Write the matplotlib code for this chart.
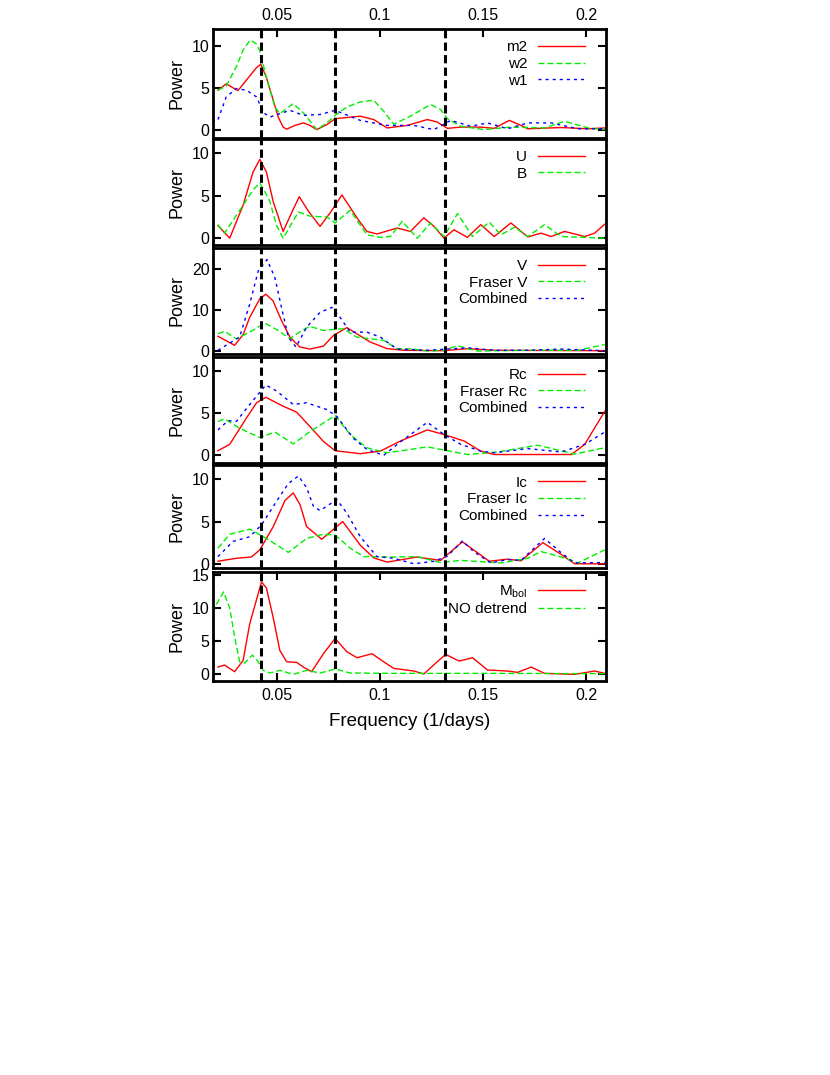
import matplotlib
matplotlib.use("Agg")
import matplotlib.pyplot as plt

plt.rcParams['font.family'] = ['Liberation Sans', 'DejaVu Sans']
plt.rcParams['mathtext.fontset'] = 'custom'
plt.rcParams['mathtext.rm'] = 'Liberation Sans'
plt.rcParams['mathtext.it'] = 'Liberation Sans:italic'

# marked frequencies (1/days)
marked_freqs = [0.0427, 0.0784, 0.1315]

# panel 1: Swift UVOT
m2_f = [0.0216, 0.0256, 0.0313, 0.0370, 0.0403, 0.0424, 0.0451, 0.0484, 0.0508, 0.0532, 0.0549, 0.0589,
        0.0630, 0.0662, 0.0695, 0.0744, 0.0784, 0.0906, 0.0971, 0.1036, 0.1133, 0.1231, 0.1279, 0.1328,
        0.1393, 0.1490, 0.1555, 0.1628, 0.1685, 0.1718, 0.1880, 0.2010, 0.2091]
m2_p = [4.7, 5.45, 4.65, 6.4, 7.4, 7.8, 6.2, 3.5, 1.5, 0.3, 0.05, 0.5,
        0.8, 0.5, 0.0, 0.6, 1.3, 1.6, 1.2, 0.2, 0.5, 1.2, 0.9, 0.15,
        0.3, 0.3, 0.15, 1.1, 0.5, 0.1, 0.25, 0.1, 0.2]
w2_f = [0.0216, 0.0256, 0.0305, 0.0338, 0.0373, 0.0403, 0.0419, 0.0451, 0.0492, 0.0516, 0.0549, 0.0581,
        0.0630, 0.0695, 0.0744, 0.0784, 0.0841, 0.0906, 0.0971, 0.1019, 0.1068, 0.1149, 0.1247, 0.1295,
        0.1328, 0.1393, 0.1506, 0.1636, 0.1799, 0.1896, 0.2010, 0.2091]
w2_p = [4.7, 5.2, 7.5, 9.5, 10.7, 10.2, 9.4, 6.2, 2.7, 1.9, 2.5, 3.1,
        2.0, 0.0, 0.8, 1.7, 2.7, 3.3, 3.5, 2.2, 0.65, 1.6, 3.0, 2.4,
        1.3, 0.4, 0.0, 0.3, 0.2, 1.0, 0.2, 0.0]
w1_f = [0.0216, 0.0256, 0.0305, 0.0354, 0.0403, 0.0419, 0.0443, 0.0468, 0.0565, 0.0630, 0.0711, 0.0784,
        0.0906, 0.1036, 0.1166, 0.1263, 0.1344, 0.1442, 0.1523, 0.1620, 0.1718, 0.1831, 0.1961, 0.2091]
w1_p = [1.2, 3.9, 4.9, 4.7, 3.9, 3.0, 1.9, 1.5, 2.3, 1.7, 1.8, 2.3,
        1.1, 0.5, 0.5, 0.0, 1.1, 0.4, 0.8, 0.1, 0.8, 0.8, 0.1, 0.1]

# panel 2: U, B
u_f = [0.0216, 0.0273, 0.0338, 0.0386, 0.0419, 0.0451, 0.0484, 0.0532, 0.0573, 0.0610, 0.0654, 0.0711,
       0.0760, 0.0817, 0.0890, 0.0938, 0.0987, 0.1084, 0.1149, 0.1214, 0.1263, 0.1312, 0.1360, 0.1425,
       0.1490, 0.1555, 0.1636, 0.1718, 0.1782, 0.1831, 0.1896, 0.1994, 0.2042, 0.2091]
u_p = [1.5, 0.0, 3.9, 7.8, 9.3, 7.8, 4.3, 0.8, 3.0, 4.9, 3.2, 1.4,
       3.0, 5.1, 2.4, 0.8, 0.5, 1.2, 0.8, 2.4, 1.4, 0.0, 1.0, 0.1,
       1.6, 0.2, 1.8, 0.15, 0.6, 0.2, 0.8, 0.2, 0.6, 1.65]
b_f = [0.0216, 0.0248, 0.0338, 0.0370, 0.0394, 0.0419, 0.0443, 0.0468, 0.0500, 0.0532, 0.0606, 0.0662,
       0.0744, 0.0784, 0.0857, 0.0938, 0.1003, 0.1052, 0.1109, 0.1182, 0.1247, 0.1312, 0.1377, 0.1450,
       0.1531, 0.1588, 0.1653, 0.1718, 0.1799, 0.1880, 0.2091]
b_p = [1.6, 0.6, 3.9, 5.1, 5.9, 6.5, 5.5, 4.3, 1.5, 0.0, 3.1, 2.6,
       2.5, 1.8, 3.3, 0.4, 0.1, 0.2, 2.0, 0.0, 1.8, 0.2, 2.9, 0.2,
       1.9, 0.4, 1.3, 0.2, 1.6, 0.2, 0.0]

# panel 3: V
v_f = [0.0216, 0.0297, 0.0338, 0.0370, 0.0419, 0.0448, 0.0483, 0.0524, 0.0565, 0.0613, 0.0662, 0.0727,
       0.0776, 0.0841, 0.0889, 0.0954, 0.1036, 0.1117, 0.1312, 0.1425, 0.1555, 0.2091]
v_p = [3.6, 1.4, 4.0, 8.2, 12.7, 13.8, 12.2, 7.4, 3.4, 1.0, 0.5, 1.2,
       3.8, 5.7, 4.2, 2.2, 0.6, 0.2, 0.1, 0.6, 0.2, 0.1]
fv_f = [0.0216, 0.0248, 0.0305, 0.0370, 0.0443, 0.0508, 0.0565, 0.0622, 0.0662, 0.0727, 0.0784, 0.0824,
        0.0889, 0.1019, 0.1084, 0.1166, 0.1231, 0.1312, 0.1377, 0.1474, 0.1718, 0.1961, 0.2091]
fv_p = [4.2, 4.8, 3.0, 4.6, 6.8, 5.0, 3.0, 5.0, 6.0, 5.0, 5.3, 5.4,
        3.4, 2.6, 0.6, 0.5, 0.0, 0.2, 1.3, 0.0, 0.2, 0.2, 1.6]
cv_f = [0.0216, 0.0321, 0.0370, 0.0411, 0.0454, 0.0492, 0.0524, 0.0557, 0.0594, 0.0646, 0.0711, 0.0768,
        0.0808, 0.0857, 0.0938, 0.1003, 0.1084, 0.1231, 0.1425, 0.1555, 0.1718, 0.1880, 0.2091]
cv_p = [0.2, 3.4, 11.4, 19.4, 22.2, 17.8, 10.6, 3.4, 1.0, 5.8, 9.4, 10.6,
        8.2, 4.6, 4.6, 3.4, 0.5, 0.2, 0.8, 0.2, 0.2, 0.5, 0.1]

# panel 4: Rc
rc_f = [0.0216, 0.0273, 0.0354, 0.0403, 0.0448, 0.0532, 0.0597, 0.0662, 0.0727, 0.0784, 0.0906, 0.1003,
        0.1101, 0.1231, 0.1312, 0.1409, 0.1490, 0.1555, 0.1929, 0.1994, 0.2091]
rc_p = [0.55, 1.3, 4.4, 6.2, 6.85, 5.8, 5.1, 3.4, 1.65, 0.55, 0.2, 0.5,
        1.7, 3.0, 2.45, 1.7, 0.5, 0.1, 0.1, 1.3, 5.2]
frc_f = [0.0216, 0.0248, 0.0321, 0.0419, 0.0492, 0.0581, 0.0662, 0.0784, 0.0857, 0.0938, 0.1036, 0.1231,
         0.1425, 0.1571, 0.1766, 0.1945, 0.2091]
frc_p = [4.0, 4.3, 3.2, 2.1, 2.75, 1.35, 2.8, 4.7, 2.45, 0.9, 0.3, 1.0,
         0.1, 0.4, 1.2, 0.15, 0.9]
crc_f = [0.0216, 0.0265, 0.0305, 0.0370, 0.0448, 0.0500, 0.0581, 0.0646, 0.0744, 0.0792, 0.0873, 0.0938,
         0.1019, 0.1101, 0.1231, 0.1312, 0.1393, 0.1490, 0.1555, 0.1718, 0.1880, 0.1994, 0.2091]
crc_p = [3.0, 4.1, 4.0, 6.0, 8.3, 7.6, 6.0, 6.2, 5.4, 4.6, 2.0, 0.7,
         0.0, 1.6, 3.9, 2.45, 1.3, 0.5, 0.3, 0.8, 0.4, 1.3, 2.75]

# panel 5: Ic
ic_f = [0.0216, 0.0305, 0.0378, 0.0419, 0.0484, 0.0541, 0.0581, 0.0614, 0.0646, 0.0719, 0.0821, 0.0906,
        0.0971, 0.1036, 0.1182, 0.1295, 0.1401, 0.1531, 0.1620, 0.1685, 0.1791, 0.1880, 0.1945, 0.2091]
ic_p = [0.3, 0.65, 0.8, 1.65, 4.4, 7.5, 8.4, 7.0, 4.4, 2.9, 5.0, 2.2,
        0.7, 0.2, 0.8, 0.4, 2.6, 0.3, 0.55, 0.35, 2.5, 1.1, 0.0, 0.0]
fic_f = [0.0216, 0.0273, 0.0370, 0.0451, 0.0557, 0.0646, 0.0727, 0.0784, 0.0857, 0.0922, 0.1068, 0.1182,
         0.1295, 0.1393, 0.1588, 0.1718, 0.1782, 0.1880, 0.1961, 0.2091]
fic_p = [1.85, 3.5, 4.1, 3.0, 1.35, 3.0, 3.5, 3.4, 1.85, 0.85, 0.8, 0.85,
         0.15, 0.4, 0.1, 0.65, 1.45, 0.8, 0.1, 1.65]
cic_f = [0.0216, 0.0289, 0.0370, 0.0427, 0.0500, 0.0557, 0.0606, 0.0646, 0.0679, 0.0711, 0.0792, 0.0841,
         0.0906, 0.0987, 0.1068, 0.1166, 0.1263, 0.1328, 0.1401, 0.1458, 0.1539, 0.1620, 0.1685, 0.1799,
         0.1880, 0.1945, 0.2091]
cic_p = [0.85, 2.65, 3.2, 4.6, 7.4, 9.5, 10.4, 9.0, 6.8, 6.3, 7.6, 6.0,
         3.2, 0.85, 0.65, 0.0, 0.3, 0.9, 2.7, 1.4, 0.1, 0.5, 0.4, 3.0,
         1.3, 0.1, 0.15]

# panel 6: bolometric
mb_f = [0.0216, 0.0248, 0.0297, 0.0338, 0.0370, 0.0427, 0.0451, 0.0484, 0.0516, 0.0549, 0.0597, 0.0630,
        0.0670, 0.0727, 0.0784, 0.0841, 0.0890, 0.0963, 0.1019, 0.1068, 0.1166, 0.1214, 0.1279, 0.1320,
        0.1385, 0.1450, 0.1523, 0.1620, 0.1669, 0.1734, 0.1799, 0.1945, 0.2042, 0.2091]
mb_p = [1.1, 1.4, 0.4, 2.1, 7.6, 13.9, 13.0, 8.5, 3.6, 1.9, 1.8, 1.1,
        0.4, 3.1, 5.4, 3.4, 2.5, 3.1, 1.9, 0.9, 0.5, 0.05, 1.9, 3.0,
        2.0, 2.5, 0.65, 0.5, 0.3, 1.1, 0.15, 0.0, 0.5, 0.15]
nd_f = [0.0208, 0.0243, 0.0273, 0.0297, 0.0321, 0.0346, 0.0383, 0.0411, 0.0435, 0.0468, 0.0516, 0.0581,
        0.0646, 0.0711, 0.0784, 0.0857, 0.1068, 0.1555, 0.2091]
nd_p = [10.5, 12.4, 10.0, 5.6, 1.9, 1.7, 2.9, 1.9, 0.6, 0.2, 0.6, 0.0,
        0.6, 0.2, 0.8, 0.2, 0.15, 0.15, 0.1]

red = '#ff0000'
green = '#00ee00'
blue = '#0000ff'
solid = '-'
dashed = (0, (4.3, 2.2))
dotted = (0, (2.2, 2.9))

panels = [
    [(m2_f, m2_p, 'm2', red, solid), (w2_f, w2_p, 'w2', green, dashed), (w1_f, w1_p, 'w1', blue, dotted)],
    [(u_f, u_p, 'U', red, solid), (b_f, b_p, 'B', green, dashed)],
    [(v_f, v_p, 'V', red, solid), (fv_f, fv_p, 'Fraser V', green, dashed), (cv_f, cv_p, 'Combined', blue, dotted)],
    [(rc_f, rc_p, 'Rc', red, solid), (frc_f, frc_p, 'Fraser Rc', green, dashed), (crc_f, crc_p, 'Combined', blue, dotted)],
    [(ic_f, ic_p, 'Ic', red, solid), (fic_f, fic_p, 'Fraser Ic', green, dashed), (cic_f, cic_p, 'Combined', blue, dotted)],
    [(mb_f, mb_p, r'M$_{\mathrm{bol}}$', red, solid), (nd_f, nd_p, 'NO detrend', green, dashed)],
]
ylims = [(-1, 12), (-0.8, 11.7), (-0.7, 25), (-0.9, 11.6), (-0.5, 11.7), (-1, 15.4)]
yticks = [[0, 5, 10], [0, 5, 10], [0, 10, 20], [0, 5, 10], [0, 5, 10], [0, 5, 10, 15]]

# panel extents in pixels (top, bottom)
W, H = 830, 1075
rows = [(29, 138), (139, 245), (248, 354), (357, 463), (465, 568), (572, 681)]
left_px, right_px = 213, 606

fig = plt.figure(figsize=(8.3, 10.75), dpi=100)

for i, (curves, (top, bot)) in enumerate(zip(panels, rows)):
    ax = fig.add_axes([left_px / W, 1 - bot / H, (right_px - left_px) / W, (bot - top) / H])
    for f in marked_freqs:
        ax.axvline(f, color='k', lw=2.2, ls=(0, (2.7, 1.4)), zorder=3)
    for fx, py, lab, col, ls in curves:
        ax.plot(fx, py, color=col, ls=ls, lw=1.0, label=lab, zorder=2)
    ax.set_xlim(0.0192, 0.2097)
    ax.set_ylim(*ylims[i])
    ax.set_yticks(yticks[i])
    ax.set_xticks([0.05, 0.1, 0.15, 0.2])
    ax.set_xticklabels(['0.05', '0.1', '0.15', '0.2'])
    for s in ax.spines.values():
        s.set_linewidth(2.0)
    ax.tick_params(axis='y', direction='in', length=6, width=1.5, left=True, right=True,
                   labelsize=11.5, pad=2.5)
    if i == 0:
        ax.tick_params(axis='x', direction='in', length=6, width=1.5, top=True, bottom=False,
                       labeltop=True, labelbottom=False, labelsize=11.5, pad=4)
    elif i == len(panels) - 1:
        ax.tick_params(axis='x', direction='in', length=6, width=1.5, top=True, bottom=True,
                       labeltop=False, labelbottom=True, labelsize=11.5, pad=5)
        ax.set_xlabel('Frequency (1/days)', fontsize=13.5, labelpad=7)
    else:
        ax.tick_params(axis='x', top=False, bottom=False, labeltop=False, labelbottom=False)
    ax.set_ylabel('Power', fontsize=13)
    ax.yaxis.set_label_coords(-0.07, 0.5)
    ax.legend(loc='upper right', bbox_to_anchor=(0.947, 0.895), frameon=False, markerfirst=False,
              fontsize=11, handlelength=3.07, handletextpad=0.72, labelspacing=0.17,
              borderaxespad=0, borderpad=0)

fig.savefig('out.png', dpi=100)
